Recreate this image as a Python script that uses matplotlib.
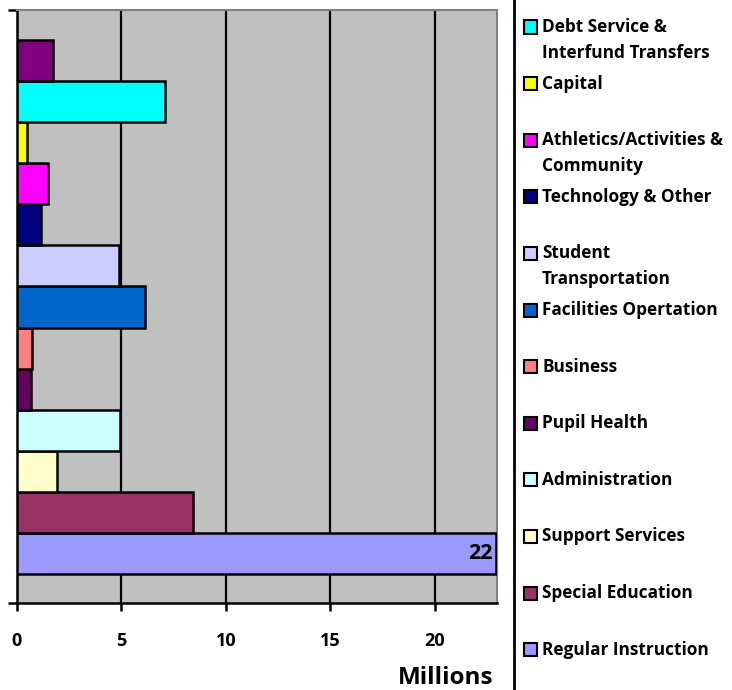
import matplotlib
matplotlib.use("Agg")
import matplotlib.pyplot as plt
from matplotlib.patches import Rectangle
from matplotlib.lines import Line2D

plt.rcParams['font.family'] = ['Open Sans', 'DejaVu Sans']
plt.rcParams['font.weight'] = 'bold'

# bars from bottom to top
categories = ["Regular Instruction", "Special Education", "Support Services",
              "Administration", "Pupil Health", "Business", "Facilities Opertation",
              "Student Transportation", "Technology & Other",
              "Athletics/Activities & Community", "Capital",
              "Debt Service & Interfund Transfers", ""]
values = [22.9, 8.43, 1.94, 4.93, 0.67, 0.72, 6.15, 4.88, 1.16, 1.51, 0.51, 7.1, 1.75]
colors = ["#9999FF", "#993366", "#FFFFCC", "#CCFFFF", "#660066", "#FF8080",
          "#0066CC", "#CCCCFF", "#000080", "#FF00FF", "#FFFF00", "#00FFFF", "#800080"]
legend_labels = ["Debt Service &\nInterfund Transfers", "Capital",
                 "Athletics/Activities &\nCommunity", "Technology & Other",
                 "Student\nTransportation", "Facilities Opertation", "Business",
                 "Pupil Health", "Administration", "Support Services",
                 "Special Education", "Regular Instruction"]
legend_colors = ["#00FFFF", "#FFFF00", "#FF00FF", "#000080", "#CCCCFF", "#0066CC",
                 "#FF8080", "#660066", "#CCFFFF", "#FFFFCC", "#993366", "#9999FF"]
xticks = [0, 5, 10, 15, 20]

W, H = 732, 690
fig = plt.figure(figsize=(W / 100, H / 100), dpi=100)
x0, x1, ytop, ybot = 16.7, 497, 10, 603
ax = fig.add_axes([x0 / W, (H - ybot) / H, (x1 - x0) / W, (ybot - ytop) / H])
ax.set_facecolor("#C0C0C0")

pos = list(range(len(values)))
ax.barh(pos, values, height=1.0, color=colors, edgecolor="black", linewidth=1.8, zorder=3)
ax.set_xlim(0, 22.96)
ax.set_ylim(-0.5 - 29 / 41, 12.5 + 30 / 41)

for xv in xticks[1:]:
    ax.axvline(xv, color="black", linewidth=1.6, zorder=1)

ax.text(values[0] - 0.15, pos[0], f"{int(values[0])}", ha="right", va="center",
        fontsize=15.5, fontweight="bold", zorder=4)

ax.set_xticks(xticks)
ax.set_xticklabels([str(t) for t in xticks], fontsize=13, fontweight="bold")
ax.tick_params(axis="x", direction="out", length=6, width=1.8, pad=15)
ax.set_yticks(ax.get_ylim())
ax.set_yticklabels([])
ax.tick_params(axis="y", direction="out", length=6.5, width=1.8)

for s in ["left", "bottom"]:
    ax.spines[s].set_color("black")
    ax.spines[s].set_linewidth(1.8)
for s in ["top", "right"]:
    ax.spines[s].set_color("#808080")
    ax.spines[s].set_linewidth(1.5)

fig.text(493 / W, 1 - 684 / H, "Millions", ha="right", va="baseline",
         fontsize=17.5, fontweight="bold")

# legend (cropped at top in the original)
fig.add_artist(Line2D([514 / W, 514 / W], [0, 1], color="black", linewidth=2))
y0, step = 27, 56.6
for i, (lab, c) in enumerate(zip(legend_labels, legend_colors)):
    yc = y0 + i * step
    fig.add_artist(Rectangle((523.5 / W, 1 - (yc + 6.5) / H), 13 / W, 13 / H,
                             facecolor=c, edgecolor="black", linewidth=1.5,
                             transform=fig.transFigure))
    lines = lab.split("\n")
    for j, ln in enumerate(lines):
        fig.text(542 / W, 1 - (yc + j * 26) / H, ln, ha="left", va="center",
                 fontsize=12.4, fontweight="bold")

fig.savefig("out.png", dpi=100)
